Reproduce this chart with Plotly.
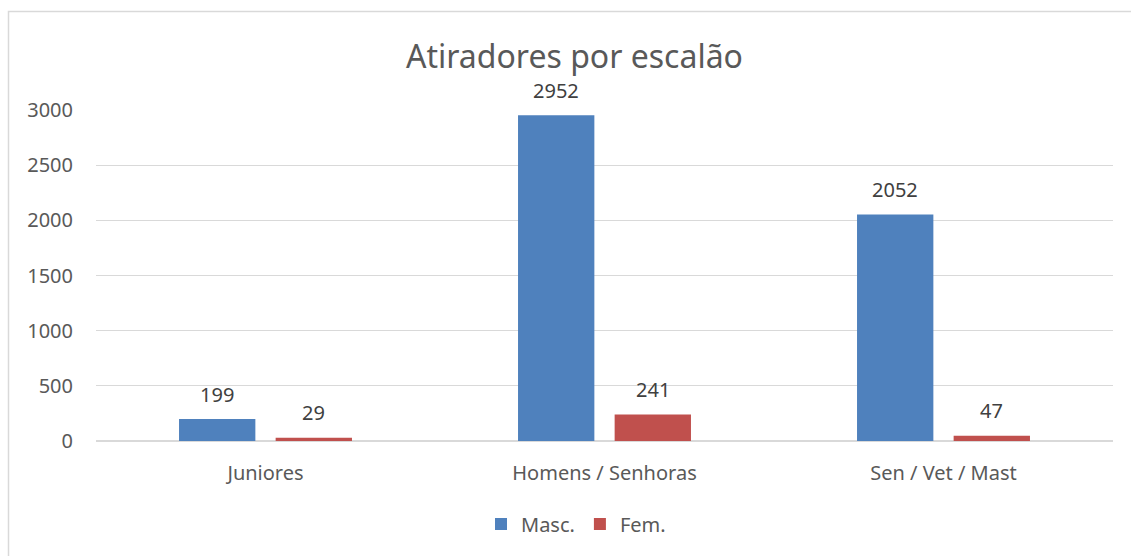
import plotly.graph_objects as go

categories = ["Juniores", "Homens / Senhoras", "Sen / Vet / Mast"]
masc = [199, 2952, 2052]
fem = [29, 241, 47]
series_names = ["Masc.", "Fem."]
series_colors = ["#4F81BD", "#C0504D"]
title_text = "Atiradores por escalão"

W, H = 1131, 556
L, R, T, B = 96, 18, 110, 115
pw, ph = W - L - R, H - T - B
BARGAP = 0.43
GROUPGAP = 0.21

font_family = "Noto Sans, Open Sans, sans-serif"

fig = go.Figure()
for name, vals, col in zip(series_names, [masc, fem], series_colors):
    fig.add_trace(go.Bar(name=name, x=categories, y=vals, marker_color=col,
                         marker_line_width=0))

# data labels, placed above each bar
cat_px = pw / len(categories)
slot_px = cat_px * (1 - BARGAP) / 2
annotations = []
for si, vals in enumerate([masc, fem]):
    shift = (si - 0.5) * slot_px
    for c, v in zip(categories, vals):
        annotations.append(dict(x=c, y=v, xref="x", yref="y", text=str(v),
                                showarrow=False, xshift=shift, yshift=25,
                                yanchor="middle", xanchor="center",
                                font=dict(size=20, color="#404040", family=font_family)))


def px_x(x):
    return (x - L) / pw


def px_y(y):
    return (H - B - y) / ph


fig.update_layout(
    width=W, height=H,
    margin=dict(l=L, r=R, t=T, b=B, autoexpand=False),
    paper_bgcolor="white", plot_bgcolor="white",
    font=dict(family=font_family, color="#595959", size=20),
    title=dict(text=title_text, x=574.5 / W, xanchor="center", y=1 - 57 / H, yanchor="middle",
               font=dict(size=32, color="#595959", family=font_family)),
    barmode="group", bargap=BARGAP, bargroupgap=GROUPGAP,
    showlegend=True,
    legend=dict(orientation="h", x=px_x(576), xanchor="center", y=px_y(524), yanchor="middle",
                font=dict(size=20, color="#595959"), itemwidth=30, traceorder="normal"),
    xaxis=dict(showgrid=False, showline=False, ticks="", ticklabelstandoff=18,
               tickfont=dict(size=20, color="#595959")),
    yaxis=dict(range=[0, 3000], dtick=500, showgrid=True, gridcolor="#D9D9D9", gridwidth=1,
               zeroline=True, zerolinecolor="#D9D9D9", zerolinewidth=1.5,
               showline=False, ticks="", ticklabelstandoff=22,
               tickfont=dict(size=20, color="#595959")),
    annotations=annotations,
    shapes=[dict(type="rect", xref="paper", yref="paper",
                 x0=px_x(8.5), x1=px_x(1150), y0=px_y(580), y1=px_y(11.5),
                 line=dict(color="#D9D9D9", width=1.5), fillcolor="rgba(0,0,0,0)", layer="below")],
)

fig.write_html(
    "out.html",
    config={"displayModeBar": False},
    post_script="document.body.style.margin='0';document.body.style.overflow='hidden';",
)
